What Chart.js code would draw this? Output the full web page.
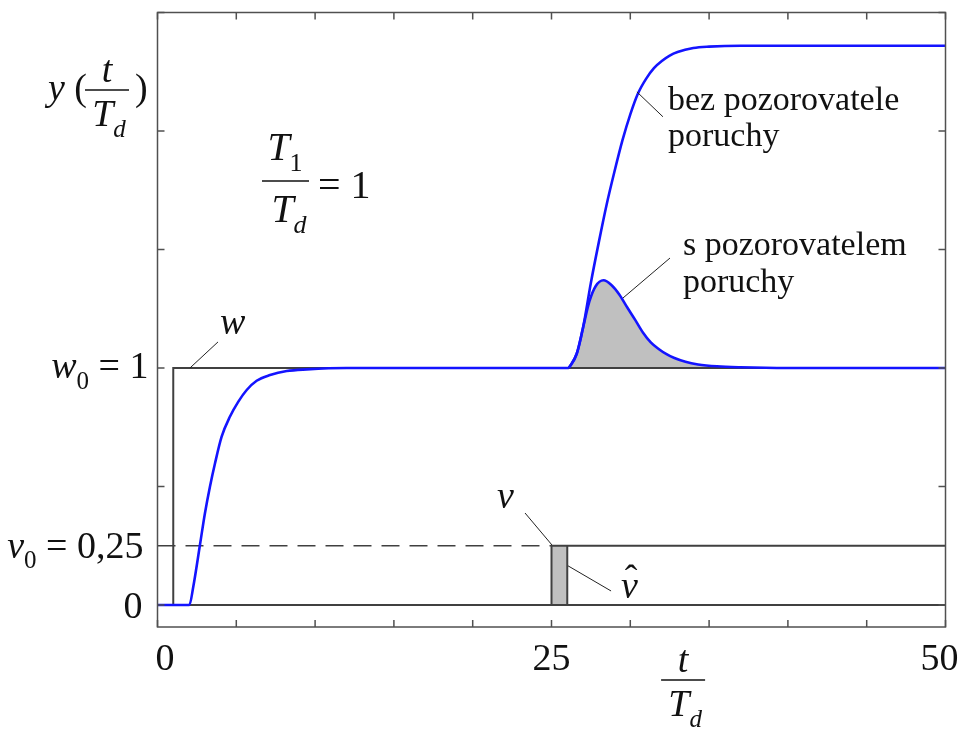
<!DOCTYPE html>
<html>
<head>
<meta charset="utf-8">
<script src="https://cdn.jsdelivr.net/npm/chart.js@4/dist/chart.umd.min.js"></script>
<style>
  body { margin: 0; background: #fff; }
  canvas { display: block; }
</style>
</head>
<body>
<canvas id="mycanvas" width="959" height="731"></canvas>
<script>
// reference step w (setpoint) and disturbance v
var tW = [1, 1, 50];
var yW = [0, 1, 1];
var tV = [25, 25, 50];
var yV = [0, 0.25, 0.25];
// disturbance estimate v^ (steps one dead time later)
var tVhat = [26, 26];
var yVhat = [0, 0.25];

// response to w, common to both variants
var tRise = [0, 2.02, 2.27, 2.7, 3.01, 3.33, 3.65, 4.07, 4.6, 5.13, 5.66, 6.29, 7.14, 8.2, 9.47, 12, 26.1];
var yRise = [0, 0, 0.077, 0.256, 0.387, 0.50, 0.598, 0.71, 0.795, 0.858, 0.907, 0.946, 0.970, 0.987, 0.994, 1, 1];
// after the disturbance: without observer
var tBez = [26.1, 26.6, 27.0, 27.5, 28.0, 28.5, 29.0, 29.5, 30.0, 30.5, 31.0, 31.5, 32.0, 32.5, 33.0, 34.0, 35.0, 37.0, 50];
var yBez = [1, 1.06, 1.17, 1.36, 1.53, 1.69, 1.83, 1.96, 2.07, 2.16, 2.22, 2.265, 2.295, 2.318, 2.333, 2.35, 2.356, 2.36, 2.36];
// after the disturbance: with observer
var tS = [26.1, 26.6, 27.0, 27.4, 27.8, 28.3, 28.8, 29.3, 29.8, 30.3, 30.8, 31.3, 31.8, 32.3, 32.8, 33.5, 34.3, 35.5, 37, 40, 50];
var yS = [1, 1.06, 1.17, 1.28, 1.345, 1.37, 1.35, 1.31, 1.256, 1.204, 1.15, 1.108, 1.08, 1.058, 1.042, 1.026, 1.015, 1.007, 1.003, 1, 1];

var xTicks = [0, 5, 10, 15, 20, 25, 30, 35, 40, 45, 50];
var yTicks = [0, 0.5, 1, 1.5, 2, 2.5];
var xLabels = [0, 25, 50];

function pts(t, v) {
    return t.map(function (ti, i) { return {x: ti, y: v[i]}; });
}

var BLUE = '#1414ff';
var GREY = '#404040';
var SERIF = '"Liberation Serif", "DejaVu Serif", serif';

// draw a row of text pieces; parts = [[text, kind]], kind: r, i, s (subscript), si (italic subscript)
function textRun(ctx, parts, x, base, align, size) {
    var F = size || 38, Fs = Math.round(F * 0.66);
    function font(k) {
        if (k === 'i') return 'italic ' + F + 'px ' + SERIF;
        if (k === 's') return Fs + 'px ' + SERIF;
        if (k === 'si') return 'italic ' + Fs + 'px ' + SERIF;
        return F + 'px ' + SERIF;
    }
    var w = 0, widths = [];
    parts.forEach(function (p) {
        ctx.font = font(p[1]);
        var m = ctx.measureText(p[0]).width;
        widths.push(m);
        w += m;
    });
    var cx = align === 'right' ? x - w : (align === 'center' ? x - w / 2 : x);
    parts.forEach(function (p, i) {
        ctx.font = font(p[1]);
        ctx.fillText(p[0], cx, p[1].charAt(0) === 's' ? base + F * 0.28 : base);
        cx += widths[i];
    });
    return w;
}

// t over T_d fraction, centred at cx with the bar at barY
function fracTTd(ctx, cx, barY, num, numKind, size) {
    var F = size || 38;
    textRun(ctx, [[num, numKind]], cx, barY - 8, 'center', F);
    ctx.beginPath();
    ctx.moveTo(cx - 22, barY);
    ctx.lineTo(cx + 22, barY);
    ctx.lineWidth = 1.6;
    ctx.strokeStyle = '#111';
    ctx.stroke();
    textRun(ctx, [['T', 'i'], ['d', 'si']], cx + 2, barY + 36, 'center', F);
}

var frame = {
    id: 'frame',
    afterDatasetsDraw: function (chart) {
        var ctx = chart.ctx, a = chart.chartArea;
        var x = chart.scales.x, y = chart.scales.y;
        ctx.save();

        // box and inward ticks
        ctx.strokeStyle = '#505050';
        ctx.lineWidth = 1.5;
        ctx.strokeRect(a.left, a.top, a.right - a.left, a.bottom - a.top);
        ctx.beginPath();
        xTicks.forEach(function (v) {
            var px = x.getPixelForValue(v);
            ctx.moveTo(px, a.bottom); ctx.lineTo(px, a.bottom - 7);
            ctx.moveTo(px, a.top); ctx.lineTo(px, a.top + 7);
        });
        yTicks.forEach(function (v) {
            var py = y.getPixelForValue(v);
            ctx.moveTo(a.left, py); ctx.lineTo(a.left + 7, py);
            ctx.moveTo(a.right, py); ctx.lineTo(a.right - 7, py);
        });
        ctx.stroke();

        // leader lines
        ctx.strokeStyle = '#222';
        ctx.lineWidth = 1;
        [[3.84, 1.11, 2.06, 1.0], [30.42, 2.165, 32.07, 2.06], [29.53, 1.295, 32.52, 1.464],
         [23.32, 0.388, 25.03, 0.253], [26.05, 0.165, 28.78, 0.059]].forEach(function (l) {
            ctx.beginPath();
            ctx.moveTo(x.getPixelForValue(l[0]), y.getPixelForValue(l[1]));
            ctx.lineTo(x.getPixelForValue(l[2]), y.getPixelForValue(l[3]));
            ctx.stroke();
        });

        ctx.fillStyle = '#111';
        ctx.textBaseline = 'alphabetic';

        // x axis
        xLabels.forEach(function (v, i) {
            var px = x.getPixelForValue(v);
            if (i === 0) textRun(ctx, [[String(v), 'r']], px - 2, 670, 'left');
            else if (i === xLabels.length - 1) textRun(ctx, [[String(v), 'r']], px + 13, 670, 'right');
            else textRun(ctx, [[String(v), 'r']], px, 670, 'center');
        });
        fracTTd(ctx, x.getPixelForValue(33.35), 680, 't', 'i');

        // y axis labels
        var lx = a.left - 9;
        textRun(ctx, [['0', 'r']], lx - 6, y.getPixelForValue(0) + 13, 'right');
        textRun(ctx, [['v', 'i'], ['0', 's'], [' = 0,25', 'r']], lx - 5, y.getPixelForValue(0.25) + 12, 'right');
        textRun(ctx, [['w', 'i'], ['0', 's'], [' = 1', 'r']], lx, y.getPixelForValue(1) + 10, 'right');
        textRun(ctx, [['y', 'i'], [' (', 'r']], 48, 100, 'left');
        fracTTd(ctx, 107, 90, 't', 'i');
        textRun(ctx, [[')', 'r']], 135, 100, 'left');

        // T1 / Td = 1
        textRun(ctx, [['T', 'i'], ['1', 's']], 285, 160, 'center', 40);
        ctx.beginPath();
        ctx.moveTo(262, 181); ctx.lineTo(309, 181);
        ctx.lineWidth = 1.6; ctx.strokeStyle = '#111'; ctx.stroke();
        textRun(ctx, [['T', 'i'], ['d', 'si']], 289, 222, 'center', 40);
        textRun(ctx, [['= 1', 'r']], 318, 198, 'left', 40);

        // curve names
        var F = 34;
        textRun(ctx, [['w', 'i']], x.getPixelForValue(3.97), y.getPixelForValue(1.143), 'left');
        textRun(ctx, [['bez pozorovatele', 'r']], x.getPixelForValue(32.39), y.getPixelForValue(2.089), 'left', F);
        textRun(ctx, [['poruchy', 'r']], x.getPixelForValue(32.39), y.getPixelForValue(1.937), 'left', F);
        textRun(ctx, [['s pozorovatelem', 'r']], x.getPixelForValue(33.34), y.getPixelForValue(1.477), 'left', F);
        textRun(ctx, [['poruchy', 'r']], x.getPixelForValue(33.34), y.getPixelForValue(1.321), 'left', F);
        textRun(ctx, [['v', 'i']], x.getPixelForValue(21.54), y.getPixelForValue(0.409), 'left');
        var vx = x.getPixelForValue(29.41), vy = y.getPixelForValue(0.03);
        textRun(ctx, [['v', 'i']], vx, vy, 'left');
        textRun(ctx, [['\u02c6', 'r']], vx + 10, vy - 7, 'center');

        ctx.restore();
    }
};

var ctx = document.getElementById('mycanvas').getContext('2d');
var myChart = new Chart(ctx, {
    type: 'line',
    data: {
        datasets: [
            {data: pts(tBez, yBez), borderColor: BLUE, borderWidth: 2.6, cubicInterpolationMode: 'monotone'},
            {data: pts(tS, yS), borderColor: BLUE, borderWidth: 2.6, cubicInterpolationMode: 'monotone'},
            {data: pts(tRise, yRise), borderColor: BLUE, borderWidth: 2.6, cubicInterpolationMode: 'monotone'},
            {data: pts(tW, yW), borderColor: GREY, borderWidth: 2},
            {data: pts([0, 50], [0, 0]), borderColor: GREY, borderWidth: 2},
            {data: pts(tV, yV), borderColor: GREY, borderWidth: 2},
            {data: pts(tVhat, yVhat), borderColor: GREY, borderWidth: 2},
            {data: pts([0, 25], [0.25, 0.25]), borderColor: GREY, borderWidth: 1.6, borderDash: [18, 10]},
            // shaded v - v^ strip
            {data: pts([25, 26], [0.25, 0.25]), borderWidth: 0, borderColor: 'rgba(0,0,0,0)',
                backgroundColor: '#c0c0c0', fill: 'origin'},
            // shaded overshoot with observer
            {data: pts(tS, yS), borderWidth: 0, borderColor: 'rgba(0,0,0,0)', cubicInterpolationMode: 'monotone',
                backgroundColor: '#c0c0c0', fill: {value: 1}}
        ]
    },
    options: {
        responsive: false,
        animation: false,
        elements: {point: {radius: 0}, line: {borderCapStyle: 'butt'}},
        layout: {padding: {left: 157.5, right: 13.5, top: 12.5, bottom: 104}},
        plugins: {legend: {display: false}, tooltip: {enabled: false}},
        scales: {
            x: {type: 'linear', min: 0, max: 50, display: false},
            y: {type: 'linear', min: -0.093, max: 2.5, display: false}
        }
    },
    plugins: [frame]
});
</script>
</body>
</html>
